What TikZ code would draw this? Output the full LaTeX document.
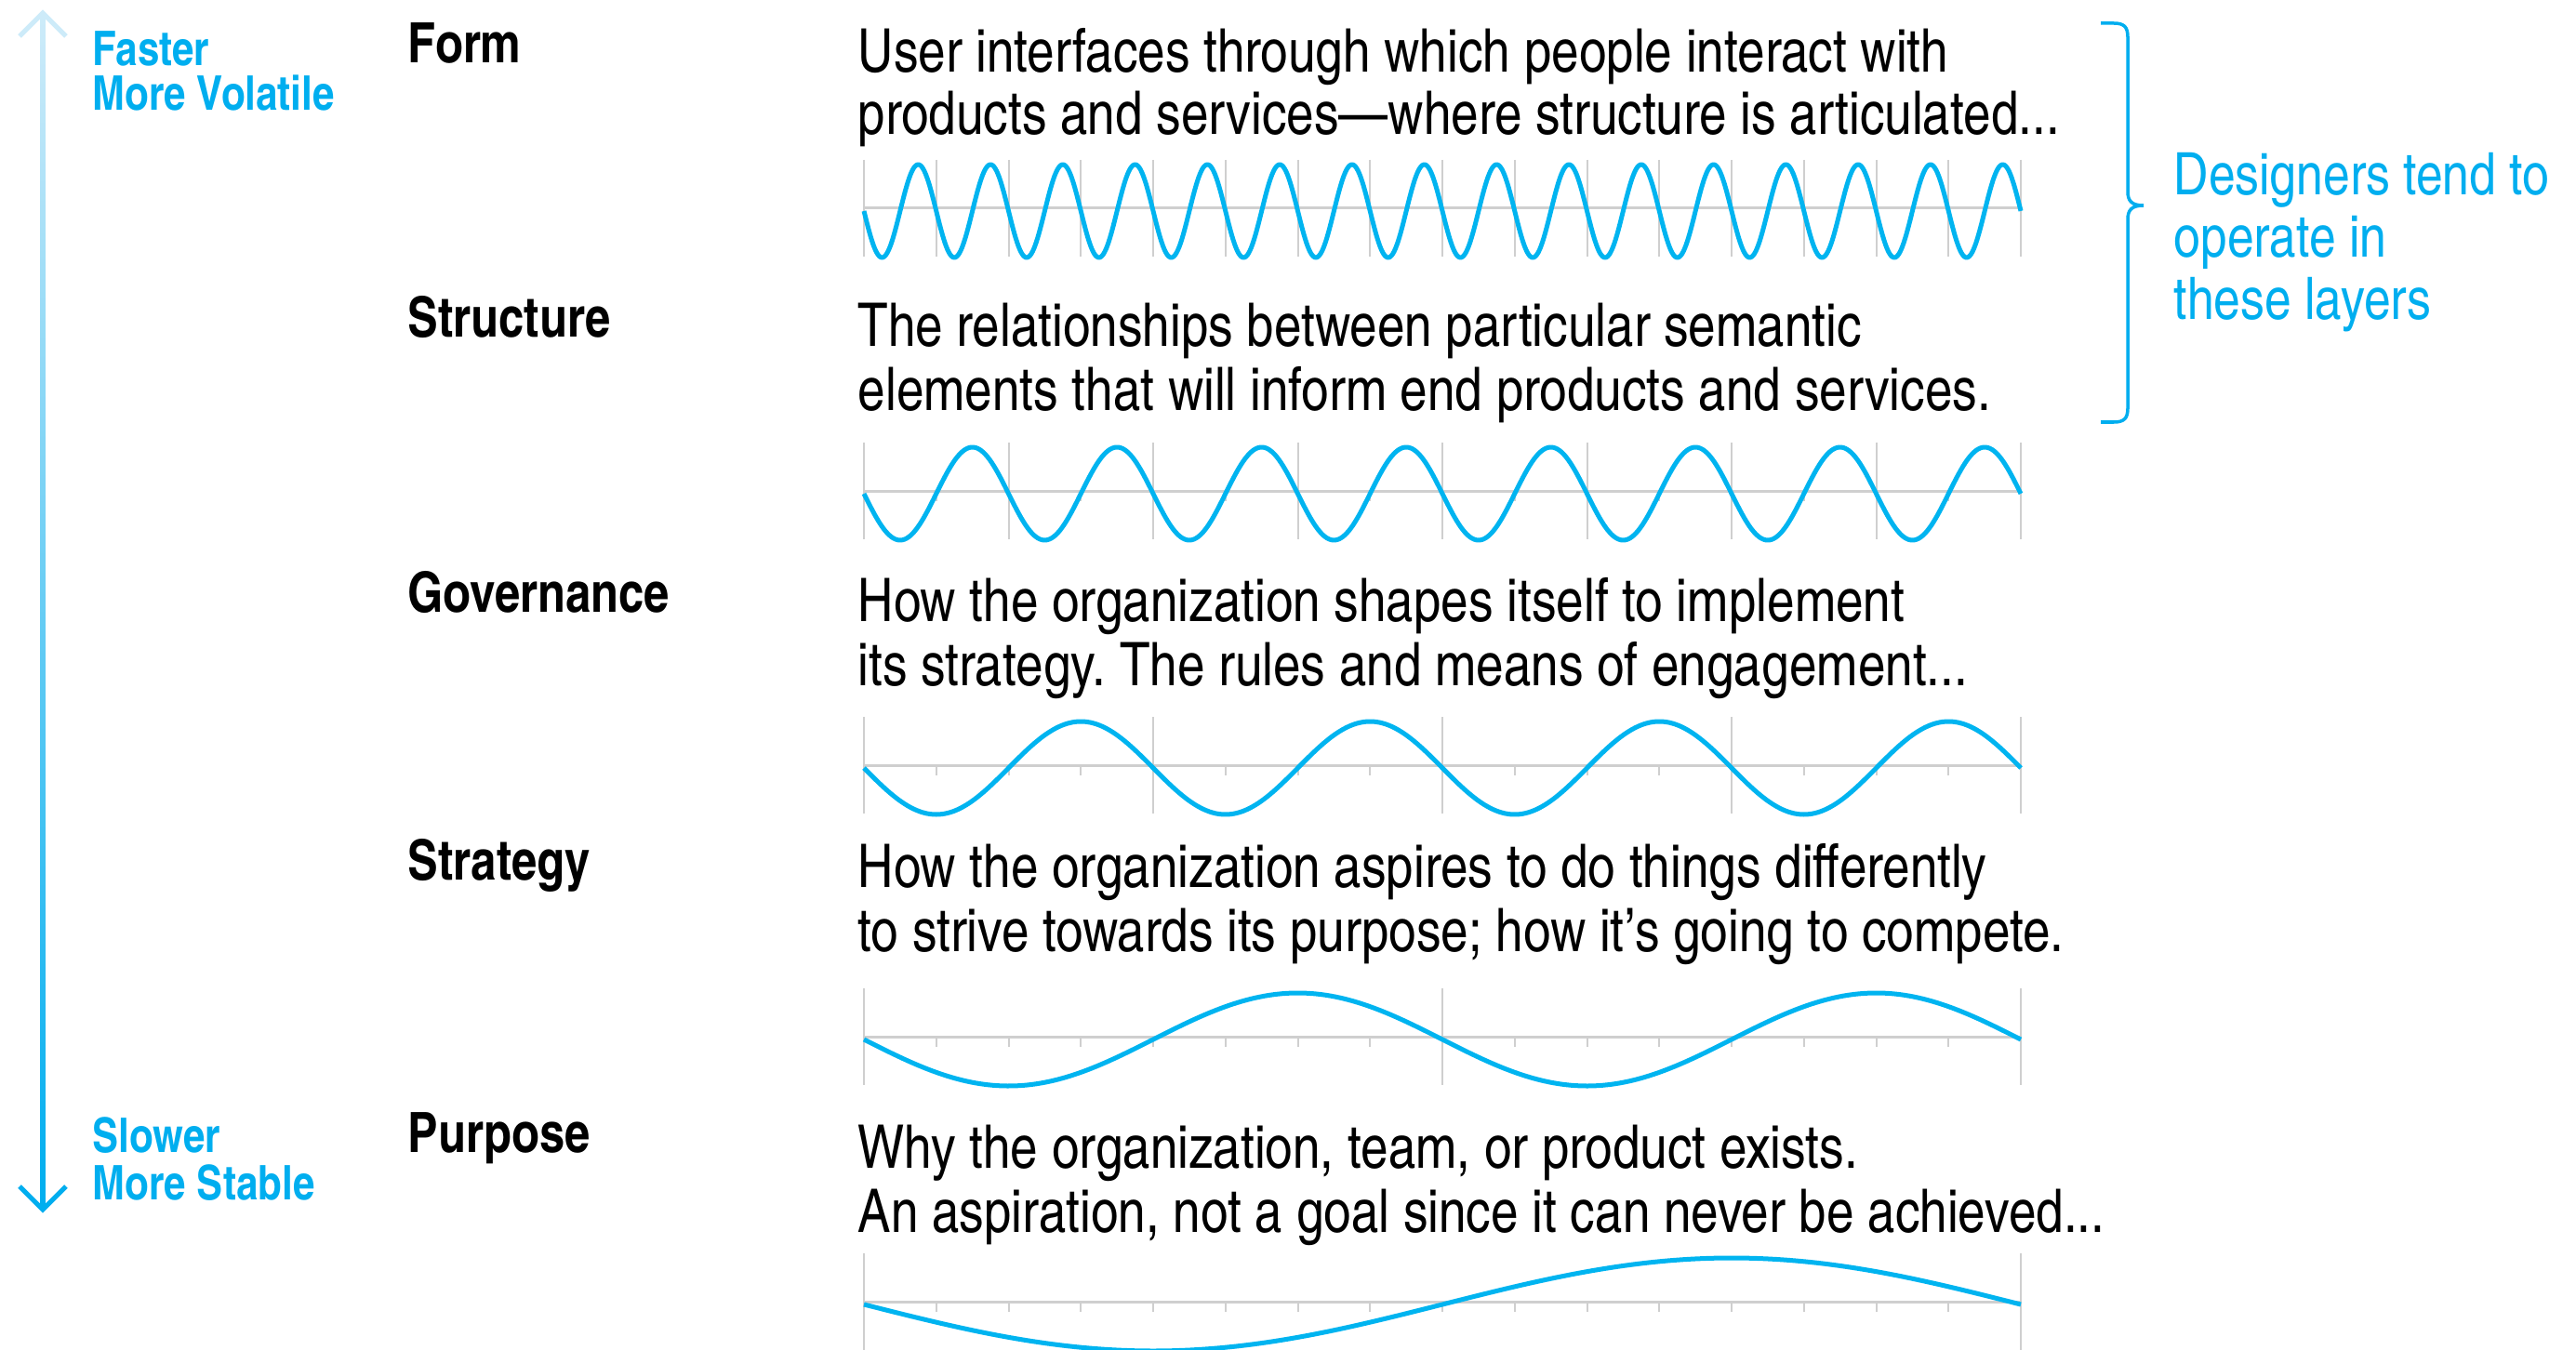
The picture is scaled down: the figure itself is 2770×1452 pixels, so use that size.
\documentclass[tikz,border=0pt]{standalone}
\usepackage{fontspec}
\setmainfont{texgyreheroscn-regular.otf}[BoldFont=texgyreheroscn-bold.otf]
\frenchspacing

\definecolor{sky}{HTML}{00AEEF}
\definecolor{skylight}{HTML}{CDEBF9}
\definecolor{wavec}{HTML}{00B4F0}
\definecolor{gridc}{HTML}{CFCFCF}

\tikzset{
  layer/.style={anchor=base west, inner sep=0pt, font=\bfseries\fontsize{17}{19}\selectfont},
  desc/.style={anchor=base west, inner sep=0pt, font=\fontsize{18.4}{20}\selectfont},
  speed/.style={anchor=base west, inner sep=0pt, text=sky, font=\bfseries\fontsize{14.6}{16}\selectfont},
  note/.style={anchor=base west, inner sep=0pt, text=sky, font=\fontsize{17.9}{20}\selectfont},
  wave/.style={draw=wavec, line width=0.05cm, line join=round},
  axisline/.style={draw=gridc, line width=0.03cm},
  gridline/.style={draw=gridc, line width=0.02cm},
  brace/.style={draw=sky, line width=0.035cm},
}

% #1 axis height, #2 number of periods, #3 tick steps per period, #4 samples
\newcommand\layerwave[4]{%
  \draw[axisline] (929,#1) -- (2173,#1);
  \foreach \k in {0,...,16}{%
    \pgfmathtruncatemacro\rest{mod(\k,#3)}%
    \ifnum\rest=0
      \draw[gridline] ({929+\k*77.75},{#1-52}) -- ++(0,104);
    \else
      \draw[gridline] ({929+\k*77.75},#1) -- ++(0,11);
    \fi
  }
  \draw[wave] plot[domain=0:1244, samples=#4] ({929+\x},{#1+3+50*sin(\x/1244*#2*360)});
}

\begin{document}
\begin{tikzpicture}[x=0.01cm, y=-0.01cm]
  \clip (0,0) rectangle (2770,1452);
  \fill[white] (0,0) rectangle (2770,1452);

  % speed axis
  \coordinate (atop) at (46,14);
  \coordinate (abot) at (46,1301);
  \shade[top color=skylight, bottom color=sky] (43.5,16) rectangle (48.5,1299);
  \draw[skylight, line width=0.05cm, miter limit=10] (21,39) -- (atop) -- (71,39);
  \draw[sky, line width=0.05cm, miter limit=10] (21,1276) -- (abot) -- (71,1276);

  \node[speed] (fast1) at (99,71) {Faster};
  \node[speed] (fast2) at (99,119) {More Volatile};
  \node[speed] (slow1) at (99,1239) {Slower};
  \node[speed] (slow2) at (99,1290) {More Stable};

  % layer names
  \node[layer] (form)  at (438,68)   {Form};
  \node[layer] (struc) at (438,363)  {Structure};
  \node[layer] (gov)   at (438,658)  {Governance};
  \node[layer] (strat) at (438,946)  {Strategy};
  \node[layer] (purp)  at (438,1239) {Purpose};

  % descriptions
  \node[desc] (d1a) at (922,78)  {User interfaces through which people interact with};
  \node[desc] (d1b) at (922,145) {products and services—where structure is articulated...};
  \node[desc] (d2a) at (922,373) {The relationships between particular semantic};
  \node[desc] (d2b) at (922,442) {elements that will inform end products and services.};
  \node[desc] (d3a) at (922,668) {How the organization shapes itself to implement};
  \node[desc] (d3b) at (922,737) {its strategy. The rules and means of engagement...};
  \node[desc] (d4a) at (922,954) {How the organization aspires to do things differently};
  \node[desc] (d4b) at (922,1023) {to strive towards its purpose; how it’s going to compete.};
  \node[desc] (d5a) at (922,1256) {Why the organization, team, or product exists.};
  \node[desc] (d5b) at (922,1325) {An aspiration, not a goal since it can never be achieved...};

  % waves
  \layerwave{224}{16}{1}{900}
  \layerwave{528}{8}{2}{600}
  \layerwave{823}{4}{4}{400}
  \layerwave{1115}{2}{8}{300}
  \layerwave{1400}{1}{16}{200}

  % brace and note
  \draw[brace] (2259,25) -- (2273,25) .. controls (2284,25) and (2288,29) .. (2288,40)
    -- (2288,206) .. controls (2288,216) and (2292,221) .. (2305,221)
    .. controls (2292,221) and (2288,226) .. (2288,236)
    -- (2288,439) .. controls (2288,450) and (2284,454) .. (2273,454) -- (2259,454);
  \node[note] (n1) at (2337,210) {Designers tend to};
  \node[note] (n2) at (2337,277) {operate in};
  \node[note] (n3) at (2337,344) {these layers};
\end{tikzpicture}
\end{document}
